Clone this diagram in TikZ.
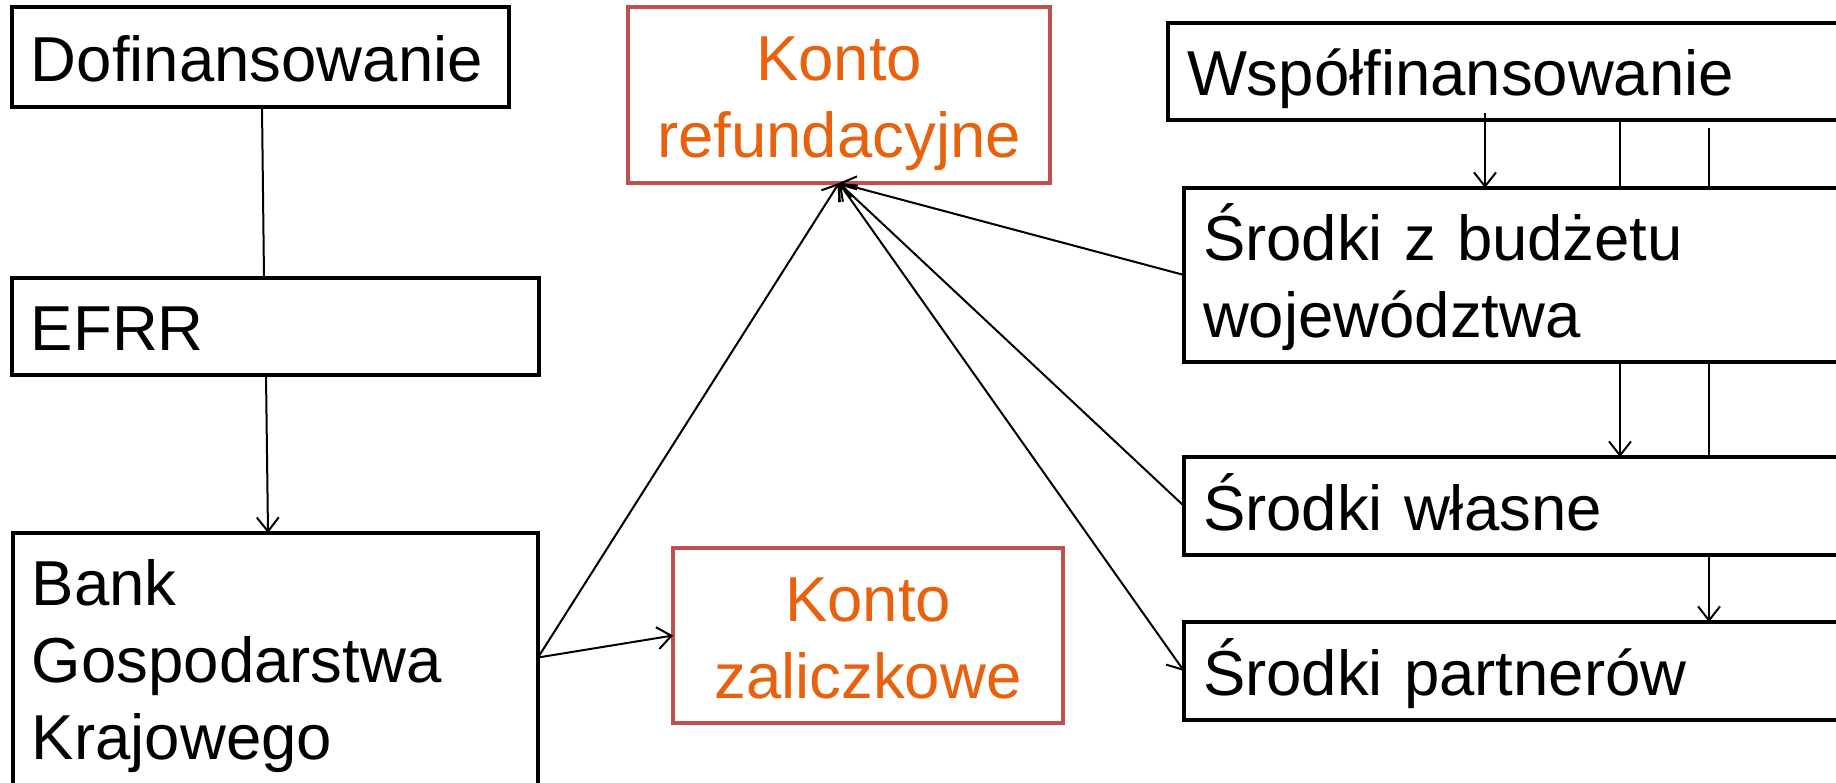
\documentclass[tikz,border=0pt]{standalone}
\usepackage{fontspec}
\setmainfont{Liberation Sans}
\usetikzlibrary{arrows.meta,calc}
\pgfdeclarelayer{bg}
\pgfsetlayers{bg,main}
\definecolor{boxred}{HTML}{C0504D}
\definecolor{txtorange}{HTML}{E8620E}
\begin{document}
\begin{tikzpicture}[x=0.5pt,y=-0.5pt,
  every node/.style={font=\fontsize{31.75pt}{38.5pt}\selectfont},
  blk/.style={draw=black, line width=2pt, fill=white, rectangle, anchor=north west, outer sep=0pt, inner xsep=9.5pt, inner ysep=0pt, align=left, text height=30pt, text depth=6pt},
  redbox/.style={draw=boxred, line width=2pt, fill=white, rectangle, anchor=north west, outer sep=0pt, inner sep=0pt, align=center, text=txtorange, text height=30pt, text depth=44.5pt},
  conn/.style={line width=1pt},
  arr/.style={conn, -{Straight Barb[length=7pt,width=11pt]}},
  darr/.style={conn, {Straight Barb[length=7pt,width=11pt]}-{Straight Barb[length=7pt,width=11pt]}}
]
\useasboundingbox (0,0) rectangle (1836,782);
\clip (0,0) rectangle (1836,782);

\node[blk, minimum width=248.5pt, minimum height=50pt, text width=229.5pt] (dof) at (12,7) {Dofinansowanie};
\node[blk, minimum width=263.5pt, minimum height=48.5pt, text width=244.5pt] (efrr) at (12,278) {EFRR};
\node[blk, minimum width=262.5pt, minimum height=133.5pt, text width=243.5pt, text depth=91.5pt] (bank) at (13,533) {Bank\\Gospodarstwa\\Krajowego};
\node[blk, minimum width=400pt, minimum height=48.5pt, text width=381pt] (wsp) at (1168,23) {Współfinansowanie};
\node[blk, minimum width=400pt, minimum height=87pt, text width=381pt, text depth=44.5pt] (bud) at (1184,188) {Środki z budżetu\\województwa};
\node[blk, minimum width=400pt, minimum height=49pt, text width=381pt] (wla) at (1184,457) {Środki własne};
\node[blk, minimum width=400pt, minimum height=49pt, text width=381pt] (par) at (1184,622) {Środki partnerów};
\node[redbox, minimum width=211pt, minimum height=88pt, text width=200pt] (ref) at (628,7) {Konto\\refundacyjne};
\node[redbox, minimum width=195pt, minimum height=87.5pt, text width=185pt] (zal) at (673,548) {Konto\\zaliczkowe};

\draw[conn] ($(dof.south west)+(250,0)$) -- ($(efrr.north west)+(252,0)$);
\draw[arr] ($(efrr.south west)+(254,0)$) -- ($(bank.north west)+(255,0)$);
\draw[arr] ([yshift=4.5pt]bank.east) -- (ref.south);
\draw[arr] ([yshift=4.5pt]bank.east) -- (zal.west);
\draw[arr] (bud.west) -- (ref.south);
\draw[arr] (wla.west) -- (ref.south);
\draw[darr] (par.west) -- (ref.south);
\draw[arr] ($(wsp.south west)+(317,-7)$) -- ($(bud.north west)+(301,0)$);
\begin{pgfonlayer}{bg}
\draw[arr] ($(wsp.south west)+(452,0)$) -- ($(wla.north west)+(436,0)$);
\draw[arr] ($(wsp.south west)+(541,8)$) -- ($(par.north west)+(525,0)$);
\end{pgfonlayer}
\end{tikzpicture}
\end{document}
